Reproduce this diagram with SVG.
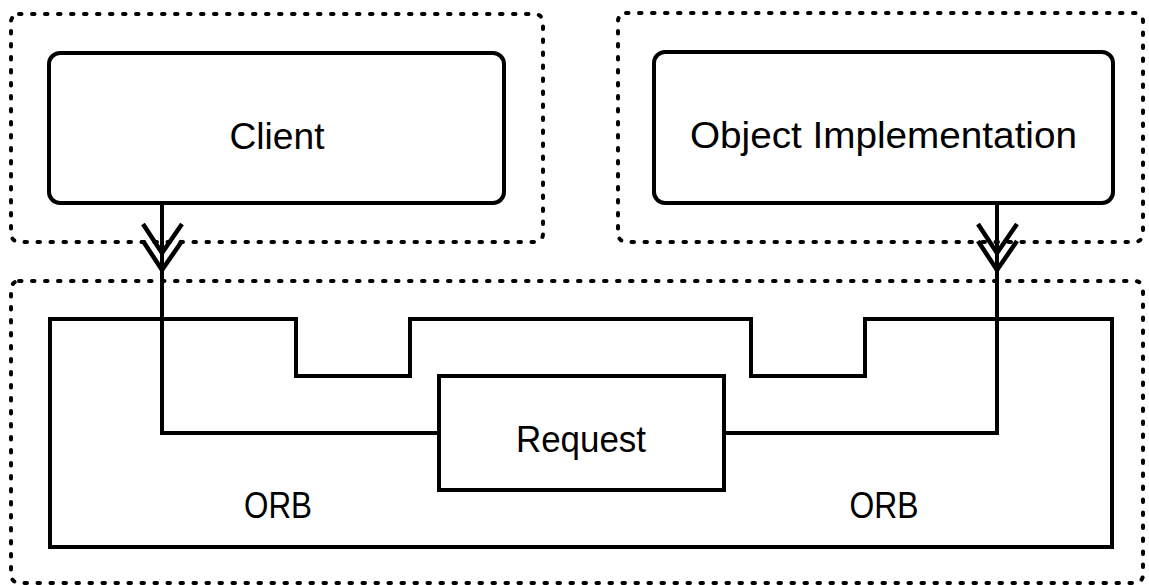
<svg xmlns="http://www.w3.org/2000/svg" width="1149" height="585" viewBox="0 0 1149 585">
  <style>
    .frame { fill: none; stroke: #000; stroke-width: 4; stroke-dasharray: 2.5 10.5; stroke-linecap: round; }
    .box { fill: #fff; stroke: #000; stroke-width: 4; }
    .wire { fill: none; stroke: #000; stroke-width: 4; stroke-linejoin: miter; }
    .label { font-family: "Liberation Sans", Arial, sans-serif; font-size: 37px; fill: #000; text-anchor: middle; }
  </style>
  <defs>
    <!-- double chevron arrowhead, origin at the lower tip -->
    <path id="dbl-chevron" d="M-19,-46 L0,-17 L20,-46 M-19,-29 L0,0 L20,-29" fill="none" stroke="#000" stroke-width="4.5" stroke-linejoin="miter"/>
  </defs>

  <rect fill="#fff" x="0" y="0" width="1149" height="585"/>

  <!-- dotted enclosures -->
  <g id="client-side">
    <rect class="frame" x="11" y="14" width="532" height="228" rx="8"/>
  </g>
  <g id="server-side">
    <rect class="frame" x="618" y="13" width="525" height="229" rx="8"/>
  </g>
  <g id="orb-layer">
    <rect class="frame" x="11" y="281" width="1132" height="302" rx="8"/>
  </g>

  <!-- ORB core -->
  <g id="orb">
    <path class="wire" d="M50,319 H296 V376 H410 V319 H751 V376 H865 V319 H1112 V547 H50 Z"/>
    <text class="label" x="278" y="518" textLength="68" lengthAdjust="spacingAndGlyphs">ORB</text>
    <text class="label" x="884" y="518" textLength="69" lengthAdjust="spacingAndGlyphs">ORB</text>
  </g>

  <!-- connectors -->
  <g id="connectors">
    <path class="wire" d="M162,203 V433 H439"/>
    <path class="wire" d="M724,433 H997 V203"/>
    <use href="#dbl-chevron" x="162" y="270"/>
    <use href="#dbl-chevron" x="997" y="270"/>
  </g>

  <g id="client">
    <rect class="box" x="49" y="53" width="455" height="150" rx="11"/>
    <text class="label" x="277" y="149" textLength="95" lengthAdjust="spacingAndGlyphs">Client</text>
  </g>

  <g id="object-implementation">
    <rect class="box" x="654" y="52" width="459" height="151" rx="11"/>
    <text class="label" x="883.5" y="148" textLength="387" lengthAdjust="spacingAndGlyphs">Object Implementation</text>
  </g>

  <g id="request">
    <rect class="box" x="439" y="376" width="285" height="114"/>
    <text class="label" x="581" y="452" textLength="130" lengthAdjust="spacingAndGlyphs">Request</text>
  </g>
</svg>
